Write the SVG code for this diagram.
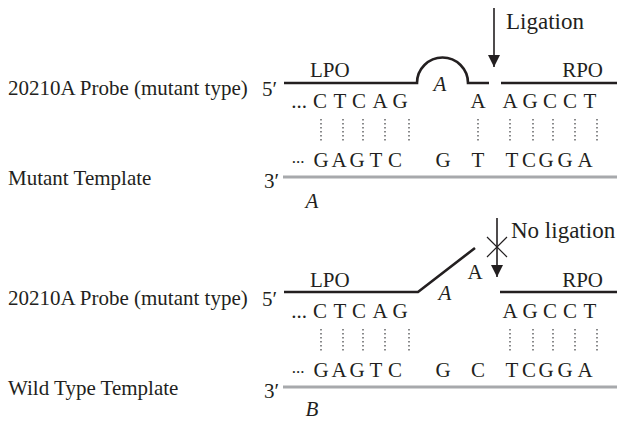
<svg xmlns="http://www.w3.org/2000/svg" width="619" height="421" viewBox="0 0 619 421">
<style>
text{font-family:"Liberation Serif","Times New Roman",serif;fill:#231f20;font-size:21px}
.lab{font-size:21px}
.seq{font-size:21px;text-anchor:middle}
.it{font-style:italic}
.big{font-size:23px}
.strand{stroke:#231f20;stroke-width:2.6;fill:none}
.tmpl{stroke:#a7a9ac;stroke-width:3;fill:none}
.dots{stroke:#58595b;stroke-width:1.4;stroke-dasharray:1.4 2.6;fill:none}
.arr{stroke:#231f20;stroke-width:1.6;fill:none}
</style>
<defs>
<marker id="ah" viewBox="0 0 12 12" refX="12" refY="6" markerWidth="12" markerHeight="12" markerUnits="userSpaceOnUse" orient="auto">
<path d="M0,0 L12,6 L0,12 Z" fill="#231f20"/>
</marker>
</defs>
<rect width="619" height="421" fill="#fff"/>

<!-- Panel A -->
<g id="labelsA">
<text class="lab" x="8" y="95">20210A Probe (mutant type)</text>
<text class="lab" x="8" y="185">Mutant Template</text>
</g>
<g id="probeA">
<text x="262" y="96">5′</text>
<path class="strand" d="M284,83 H417 A25.5,25.5 0 0 1 468,83 H489"/>
<path class="strand" d="M501,83 H617"/>
<text x="310" y="77">LPO</text>
<text x="603" y="77" text-anchor="end">RPO</text>
<text class="it" x="440" y="91" text-anchor="middle">A</text>
<text class="seq" x="299" y="108">...</text>
<text class="seq" x="320 340 359 380 400" y="108">CTCAG</text>
<text class="seq" x="478 510 530 550 570 590" y="108">AAGCCT</text>
</g>
<g id="templateA">
<text x="264" y="188">3′</text>
<path class="tmpl" d="M283,177 H617"/>
<text class="seq" x="298" y="163" style="font-size:17px">...</text>
<text class="seq" x="321 339 357 376 395 443 478 512 529 546 565 585" y="167">GAGTCGTTCGGA</text>
<text class="it" x="312" y="208" text-anchor="middle">A</text>
</g>

<!-- Panel B -->
<g id="labelsB">
<text class="lab" x="8" y="305">20210A Probe (mutant type)</text>
<text class="lab" x="8" y="395">Wild Type Template</text>
</g>
<g id="probeB">
<text x="262" y="306">5′</text>
<path class="strand" d="M284,292 H418 L475,248"/>
<path class="strand" d="M500,292 H617"/>
<text x="310" y="287">LPO</text>
<text x="603" y="287" text-anchor="end">RPO</text>
<text x="475" y="279" text-anchor="middle">A</text>
<text class="it" x="445" y="300" text-anchor="middle">A</text>
<text class="seq" x="299" y="318">...</text>
<text class="seq" x="320 340 359 380 400" y="318">CTCAG</text>
<text class="seq" x="510 530 550 570 590" y="318">AGCCT</text>
</g>
<g id="templateB">
<text x="264" y="398">3′</text>
<path class="tmpl" d="M283,387 H617"/>
<text class="seq" x="298" y="373" style="font-size:17px">...</text>
<text class="seq" x="321 339 357 376 395 443 478 512 529 546 565 585" y="377">GAGTCGCTCGGA</text>
<text class="it" x="312" y="416" text-anchor="middle">B</text>
</g>

<g id="connectors">
<g id="pairsA">
<path class="dots" d="M321,119 V142 M343,119 V142 M363,119 V142 M385,119 V142 M409,119 V142 M478,119 V142 M510,119 V142 M533,119 V142 M553,119 V142 M575,119 V142 M597,119 V142"/>
</g>
<g id="pairsB">
<path class="dots" d="M321,329 V352 M343,329 V352 M363,329 V352 M385,329 V352 M409,329 V352 M510,329 V352 M533,329 V352 M553,329 V352 M575,329 V352 M597,329 V352"/>
</g>
<g id="ligation">
<path class="arr" d="M494,8 V67" marker-end="url(#ah)"/>
<text class="big" x="506" y="29">Ligation</text>
</g>
<g id="noligation">
<path class="arr" d="M497,218 V277" marker-end="url(#ah)"/>
<path class="arr" style="stroke-width:1.2" d="M487,237 L507,257 M507,237 L487,257"/>
<text class="big" x="511" y="238">No ligation</text>
</g>
</g>
</svg>
